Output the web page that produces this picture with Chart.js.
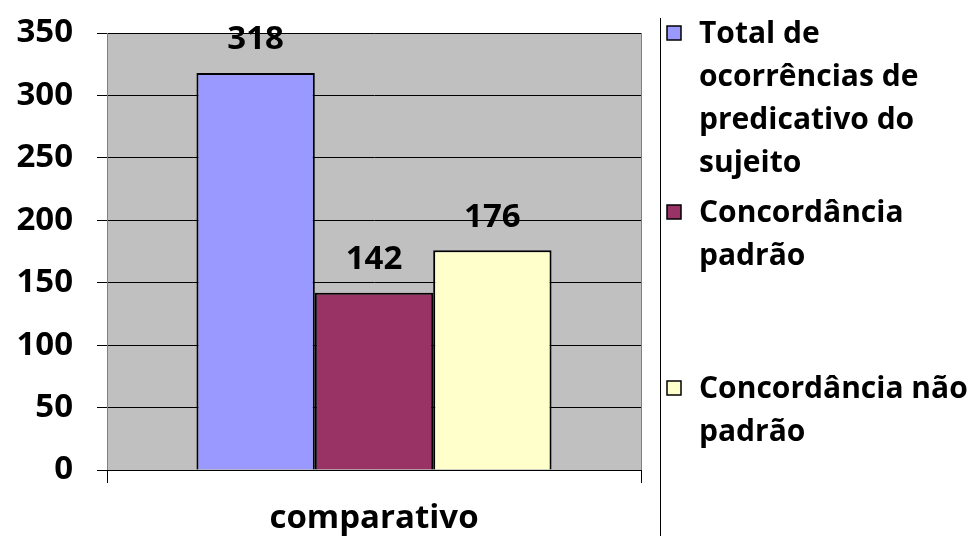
<!DOCTYPE html>
<html>
<head>
<meta charset="utf-8">
<script src="https://cdn.jsdelivr.net/npm/chart.js@4/dist/chart.umd.min.js"></script>
<style>
  html, body { margin: 0; padding: 0; background: #fff; }
  #wrap { width: 970px; height: 536px; }
</style>
</head>
<body>
<div id="wrap"><canvas id="barChart" width="970" height="536"></canvas></div>
<script>
// chart data
const categories = ['comparativo'];
const seriesNames = [
    'Total de ocorrências de predicativo do sujeito',
    'Concordância padrão',
    'Concordância não padrão'
];
const seriesValues = [318, 142, 176];
const seriesColors = ['#9999FF', '#993366', '#FFFFCC'];
// legend text broken the way the original wraps it
const legendLines = [
    ['Total de', 'ocorrências de', 'predicativo do', 'sujeito'],
    ['Concordância', 'padrão'],
    ['Concordância não', 'padrão']
];
const yTicks = [0, 50, 100, 150, 200, 250, 300, 350];

const FONT = '"Open Sans", "DejaVu Sans", sans-serif';

// grey plot background + border
const plotBg = {
    id: 'plotBg',
    beforeDraw(chart) {
        const { ctx, chartArea: a } = chart;
        ctx.save();
        ctx.fillStyle = '#C0C0C0';
        ctx.fillRect(a.left, a.top, a.right - a.left, a.bottom - a.top);
        ctx.strokeStyle = '#808080';
        ctx.lineWidth = 1;
        ctx.strokeRect(a.left + 0.5, a.top + 0.5, a.right - a.left, a.bottom - a.top);
        ctx.restore();
    }
};

// value labels over bars
const valueLabels = {
    id: 'valueLabels',
    afterDatasetsDraw(chart) {
        const { ctx } = chart;
        ctx.save();
        ctx.font = 'bold 33px ' + FONT;
        ctx.fillStyle = '#000';
        ctx.textAlign = 'center';
        ctx.textBaseline = 'middle';
        chart.data.datasets.forEach((ds, i) => {
            const bar = chart.getDatasetMeta(i).data[0];
            ctx.fillText(String(ds.data[0]), bar.x, bar.y - 33);
        });
        ctx.restore();
    }
};

// legend on the right with a separator line
const sideLegend = {
    id: 'sideLegend',
    afterDraw(chart) {
        const { ctx } = chart;
        const starts = [33, 212, 388];
        const lineH = 43;
        ctx.save();
        ctx.strokeStyle = '#000';
        ctx.lineWidth = 1;
        ctx.beginPath();
        ctx.moveTo(660.5, 18);
        ctx.lineTo(660.5, 536);
        ctx.stroke();
        ctx.font = 'bold 30px ' + FONT;
        ctx.textBaseline = 'middle';
        ctx.textAlign = 'left';
        legendLines.forEach((lines, i) => {
            const y0 = starts[i];
            ctx.fillStyle = seriesColors[i];
            ctx.fillRect(667, y0 - 7, 14, 14);
            ctx.strokeStyle = '#000';
            ctx.lineWidth = 1.5;
            ctx.strokeRect(667, y0 - 7, 14, 14);
            ctx.fillStyle = '#000';
            lines.forEach((t, j) => ctx.fillText(t, 699, y0 + 1 + j * lineH));
        });
        ctx.restore();
    }
};

new Chart(document.getElementById('barChart'), {
    type: 'bar',
    data: {
        labels: categories,
        datasets: seriesNames.map((name, i) => ({
            label: name,
            data: [seriesValues[i]],
            backgroundColor: seriesColors[i],
            borderColor: '#000',
            borderWidth: 2,
            categoryPercentage: 0.665,
            barPercentage: 1
        }))
    },
    options: {
        responsive: false,
        animation: false,
        layout: { padding: { top: 33, right: 329, left: 0, bottom: 0 } },
        scales: {
            y: {
                min: 0, max: 350,
                afterBuildTicks: (axis) => { axis.ticks = yTicks.map(v => ({ value: v })); },
                afterFit: (axis) => { axis.width = 107; axis.paddingTop = 0; axis.paddingBottom = 0; },
                grid: { color: '#000', lineWidth: 1, tickLength: 10 },
                border: { color: '#808080' },
                ticks: { color: '#000', padding: 24, font: { family: FONT, size: 33, weight: 'bold' } }
            },
            x: {
                afterFit: (axis) => { axis.height = 66; axis.paddingLeft = 0; axis.paddingRight = 0; },
                grid: { offset: true, drawOnChartArea: false, color: '#000', tickLength: 13 },
                border: { color: '#000' },
                ticks: { color: '#000', padding: 16, font: { family: FONT, size: 33, weight: 'bold' } }
            }
        },
        plugins: {
            legend: { display: false },
            tooltip: { enabled: false }
        }
    },
    plugins: [plotBg, valueLabels, sideLegend]
});
</script>
</body>
</html>
